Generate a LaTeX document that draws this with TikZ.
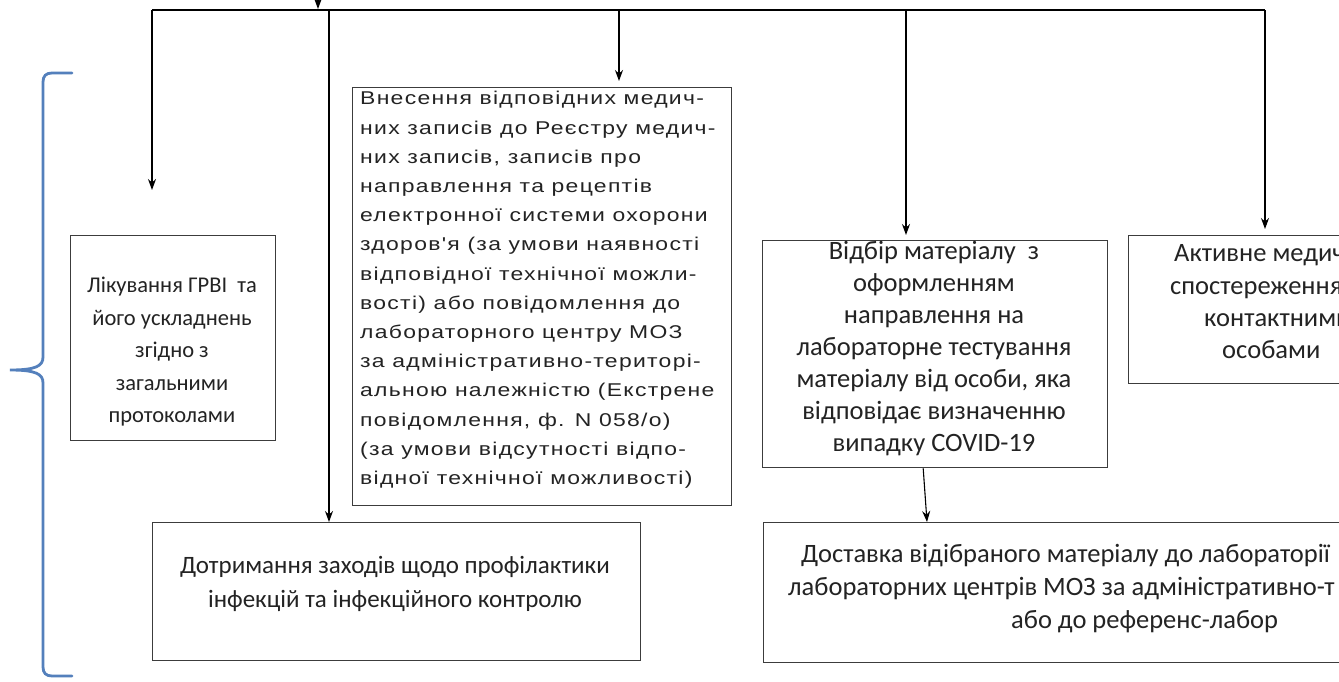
\documentclass[tikz,border=0pt]{standalone}
\usepackage{fontspec}
\setmainfont{Carlito}
\newfontfamily\arl[FakeStretch=1.24, LetterSpace=7]{Liberation Sans}
\usetikzlibrary{arrows.meta}
\definecolor{bracecol}{RGB}{84,128,188}
\definecolor{boxline}{RGB}{60,60,60}
\definecolor{txt}{RGB}{35,35,35}
\tikzset{
  box/.style={draw=boxline, line width=1.4pt, anchor=north west, inner sep=0pt},
  conn/.style={line width=1.1pt, black},
  arr/.style={conn, -{Stealth[length=11pt,width=8pt]}},
  ctext/.style={align=center, inner sep=0pt, text=txt},
  ltext/.style={align=left, inner sep=0pt, font=\arl\fontsize{18.5}{29.2}\selectfont, text=txt},
}
\begin{document}
\begin{tikzpicture}[x=1pt,y=-1pt]
\useasboundingbox (0,0) rectangle (1339,681);
\clip (0,0) rectangle (1339,681);
\fill[white] (0,0) rectangle (1339,681);

% boxes
\node[box, minimum width=205pt, minimum height=205pt] (lik) at (70,235) {};
\node[ctext, font=\fontsize{22.5}{32.5}\selectfont] (likt) at (172,352) {Лікування ГРВІ\ \ та\\його ускладнень\\згідно з\\загальними\\протоколами};

\node[box, minimum width=379pt, minimum height=418pt] (vnes) at (352,87) {};
\node[ltext, anchor=west] (vnest) at (360,290) {Внесення відповідних медич-\\них записів до Реєстру медич-\\них записів, записів про\\направлення та рецептів\\електронної системи охорони\\здоров'я (за умови наявності\\відповідної технічної можли-\\вості) або повідомлення до\\лабораторного центру МОЗ\\за адміністративно-територі-\\альною належністю (Екстрене\\повідомлення, ф. N 058/о)\\(за умови відсутності відпо-\\відної технічної можливості)};

\node[box, minimum width=345pt, minimum height=227pt] (vidb) at (762,240) {};
\node[ctext, font=\fontsize{26.5}{32}\selectfont] (vidbt) at (934,349) {Відбір матеріалу\ \ з\\оформленням\\направлення на\\лабораторне тестування\\матеріалу від особи, яка\\відповідає визначенню\\випадку COVID-19};

\node[box, minimum width=300pt, minimum height=148pt] (akt) at (1128,235) {};
\node[ctext, align=left, anchor=west, font=\fontsize{26.5}{32.3}\selectfont] (aktt) at (1170,302) {\hspace*{4pt}Активне медич\\спостереження\\\hspace*{34pt}контактними\\\hspace*{52pt}особами};

\node[box, minimum width=488pt, minimum height=138pt] (dotr) at (152,522) {};
\node[ctext, font=\fontsize{25}{34}\selectfont] (dotrt) at (395,584) {Дотримання заходів щодо профілактики\\інфекцій та інфекційного контролю};

\node[box, minimum width=640pt, minimum height=140pt] (dost) at (763,522) {};
\node[ctext, align=left, anchor=west, font=\fontsize{26.5}{33}\selectfont] (dostt) at (788,589) {\hspace*{13pt}Доставка відібраного матеріалу до лабораторії\\лабораторних центрів МОЗ за адміністративно-т\\\hspace*{223pt}або до референс-лабор};

% top bus line
\coordinate (tl) at (152,10);
\coordinate (tr) at (1265,10);
\coordinate (j2) at (329,10);
\coordinate (j3) at (619,10);
\coordinate (j4) at (906,10);
\coordinate (inbeg) at (318,-4);
\coordinate (inend) at (318,9);
\coordinate (likend) at (152,190);
\draw[conn] (tl) -- (tr);
\draw[arr] (inbeg) -- (inend);
\draw[arr] (tl) -- (likend);
\draw[arr] (j2) -- (j2 |- dotr.north);
\draw[arr, shorten >=6pt] (j3) -- (j3 |- vnes.north);
\draw[arr, shorten >=5pt] (j4) -- (j4 |- vidb.north);
\draw[arr, shorten >=6pt] (tr) -- (tr |- akt.north);
\draw[arr] ([xshift=-12pt]vidb.south) -- ([xshift=164pt]dost.north west);

% brace
\draw[bracecol, line width=2.8pt, line cap=round]
  (72,73) -- (52,73) .. controls (46,73) and (43,76) .. (43,82)
  -- (43,357) .. controls (43,366) and (36,370) .. (10,370)
  .. controls (36,370) and (43,374) .. (43,383)
  -- (43,667) .. controls (43,673) and (46,676) .. (52,676) -- (72,676);
\end{tikzpicture}
\end{document}
